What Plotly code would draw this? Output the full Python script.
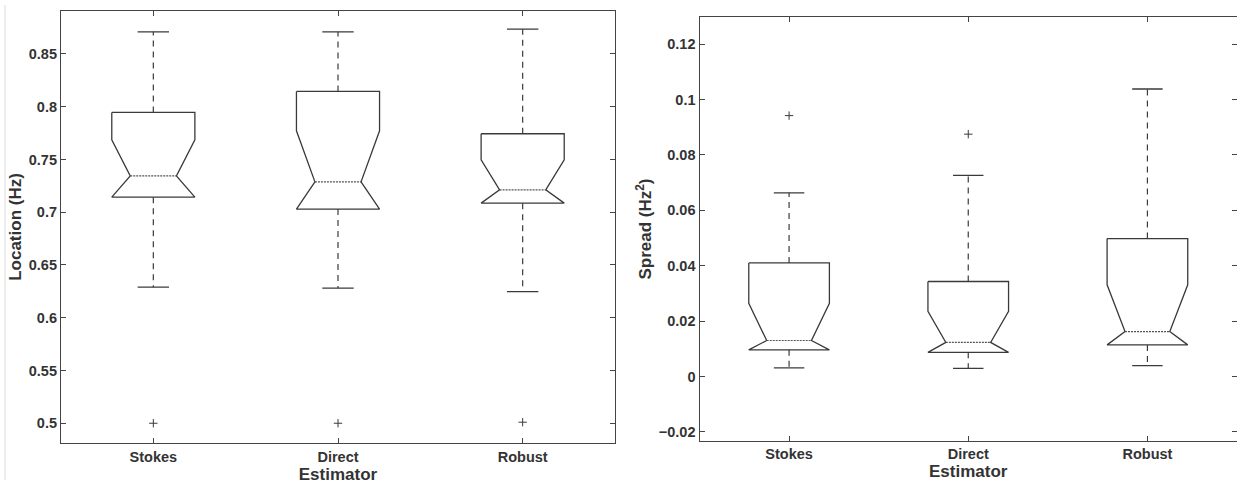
import plotly.graph_objects as go
from plotly.subplots import make_subplots

categories = ["Stokes", "Direct", "Robust"]

# Location (Hz) panel
loc_upper_whisker = [0.871, 0.871, 0.8735]
loc_q3 = [0.7946, 0.8145, 0.7744]
loc_notch_hi = [0.7687, 0.7772, 0.7497]
loc_median = [0.7345, 0.7288, 0.7212]
loc_q1 = [0.7143, 0.7030, 0.7086]
loc_lower_whisker = [0.629, 0.628, 0.6247]
loc_outliers = [[0.500], [0.500], [0.501]]

# Spread (Hz^2) panel
spr_upper_whisker = [0.0663, 0.0726, 0.1038]
spr_q3 = [0.0410, 0.0343, 0.0498]
spr_notch_hi = [0.0264, 0.0235, 0.0331]
spr_median = [0.0130, 0.0123, 0.0162]
spr_q1 = [0.0096, 0.0087, 0.0114]
spr_lower_whisker = [0.0031, 0.0029, 0.0039]
spr_outliers = [[0.0942], [0.0875], []]

loc_ticks = [0.5, 0.55, 0.6, 0.65, 0.7, 0.75, 0.8, 0.85]
loc_ticktext = ["0.5", "0.55", "0.6", "0.65", "0.7", "0.75", "0.8", "0.85"]
spr_ticks = [-0.02, 0, 0.02, 0.04, 0.06, 0.08, 0.1, 0.12]
spr_ticktext = ["\u22120.02", "0", "0.02", "0.04", "0.06", "0.08", "0.1", "0.12"]

LINE = "#3a3a3a"
HALF_W = 0.225   # half box width (x units)
NOTCH_W = 0.125  # half width at the median
CAP_W = 0.085    # half whisker-cap width

fig = make_subplots(rows=1, cols=2)


def add_panel(col, uw, q3, nh, med, q1, lw, outs):
    for i in range(len(categories)):
        x0 = i + 1
        xs = [x0 - HALF_W, x0 + HALF_W, x0 + HALF_W, x0 + NOTCH_W, x0 + HALF_W,
              x0 - HALF_W, x0 - NOTCH_W, x0 - HALF_W, x0 - HALF_W]
        ys = [q3[i], q3[i], nh[i], med[i], q1[i], q1[i], med[i], nh[i], q3[i]]
        fig.add_trace(go.Scatter(x=xs, y=ys, mode="lines",
                                 line=dict(color=LINE, width=1.3),
                                 showlegend=False, hoverinfo="skip"), row=1, col=col)
        fig.add_trace(go.Scatter(x=[x0 - NOTCH_W, x0 + NOTCH_W], y=[med[i], med[i]],
                                 mode="lines", line=dict(color="#555555", width=1.1, dash="2px,1px"),
                                 showlegend=False, hoverinfo="skip"), row=1, col=col)
        fig.add_trace(go.Scatter(x=[x0, x0, None, x0, x0],
                                 y=[q3[i], uw[i], None, q1[i], lw[i]],
                                 mode="lines", line=dict(color=LINE, width=1.2, dash="6px,5px"),
                                 showlegend=False, hoverinfo="skip"), row=1, col=col)
        fig.add_trace(go.Scatter(x=[x0 - CAP_W, x0 + CAP_W, None, x0 - CAP_W, x0 + CAP_W],
                                 y=[uw[i], uw[i], None, lw[i], lw[i]],
                                 mode="lines", line=dict(color=LINE, width=1.3),
                                 showlegend=False, hoverinfo="skip"), row=1, col=col)
        if outs[i]:
            fig.add_trace(go.Scatter(x=[x0] * len(outs[i]), y=outs[i], mode="markers",
                                     marker=dict(symbol="cross-thin", size=6,
                                                 line=dict(color=LINE, width=1)),
                                     showlegend=False, hoverinfo="skip"), row=1, col=col)


add_panel(1, loc_upper_whisker, loc_q3, loc_notch_hi, loc_median, loc_q1,
          loc_lower_whisker, loc_outliers)
add_panel(2, spr_upper_whisker, spr_q3, spr_notch_hi, spr_median, spr_q1,
          spr_lower_whisker, spr_outliers)

FAM = "Liberation Sans, Arial, sans-serif"
tickfont = dict(family=FAM, size=14.5, color="#333333")
titlefont = dict(family=FAM, size=17, color="#333333")

axis_common = dict(showline=True, linecolor="#444444", linewidth=1.2, mirror="ticks",
                   ticks="inside", ticklen=5, tickcolor="#444444", tickwidth=1,
                   showgrid=False, zeroline=False, tickfont=tickfont, automargin=False)

fig.update_xaxes(**axis_common, range=[0.5, 3.5], tickvals=[1, 2, 3],
                 ticktext=["<b>%s</b>" % c for c in categories])
fig.update_xaxes(domain=[61 / 1237, 615 / 1237], row=1, col=1,
                 title=dict(text="<b>Estimator</b>", font=titlefont, standoff=1))
fig.update_xaxes(domain=[699.5 / 1237, 1.0], row=1, col=2,
                 title=dict(text="<b>Estimator</b>", font=titlefont, standoff=1))

fig.update_yaxes(**axis_common)
fig.update_yaxes(domain=[1 - 443.3 / 485, 1 - 10.7 / 485], range=[0.481, 0.891],
                 tickvals=loc_ticks, ticktext=["<b>%s</b>" % t for t in loc_ticktext],
                 title=dict(text="<b>Location (Hz)</b>", font=titlefont, standoff=2), row=1, col=1)
fig.update_yaxes(domain=[1 - 440.7 / 485, 1 - 17.3 / 485], range=[-0.0232, 0.1297],
                 tickvals=spr_ticks, ticktext=["<b>%s</b>" % t for t in spr_ticktext],
                 title=dict(text="<b>Spread (Hz<sup>2</sup>)</b>", font=titlefont, standoff=2), row=1, col=2)

fig.add_shape(type="line", xref="paper", yref="paper", x0=5 / 1237, x1=5 / 1237, y0=0.01, y1=0.99,
              line=dict(color="#dddddd", width=1))

fig.update_layout(width=1237, height=485, margin=dict(l=0, r=0, t=0, b=0),
                  paper_bgcolor="white", plot_bgcolor="white", showlegend=False)

fig.write_html("out.html")
